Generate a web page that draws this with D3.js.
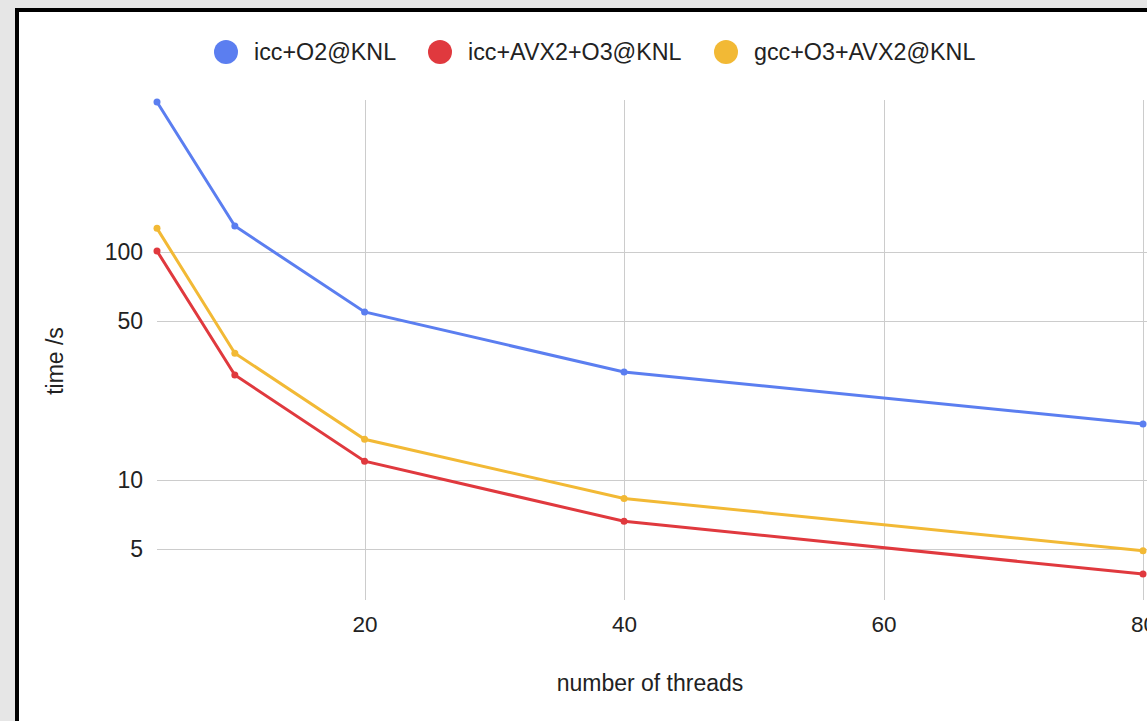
<!DOCTYPE html>
<html>
<head>
<meta charset="utf-8">
<script src="https://cdn.jsdelivr.net/npm/d3@7"></script>
<style>
  body { margin: 0; background: #e6e6e6; overflow: hidden; }
  #container { position: absolute; left: 15px; top: 8px; }
  text { font-family: "Liberation Sans", Arial, sans-serif; fill: #222; }
</style>
</head>
<body>
<div id="container"></div>
<script>
let w = 1147;
let h = 721;

// data
let threads = [4, 10, 20, 40, 80];
let seriesNames = ["icc+O2@KNL", "icc+AVX2+O3@KNL", "gcc+O3+AVX2@KNL"];
let seriesColors = ["#5b7ef0", "#e0393e", "#f2b935"];
let iccO2 = [455, 130, 54.6, 29.8, 17.6];
let iccAvx = [101, 28.9, 12.1, 6.6, 3.87];
let gccAvx = [127, 36, 15.1, 8.3, 4.9];
let yTicks = [5, 10, 50, 100];
let xTicks = [20, 40, 60, 80];

let allSeries = [iccO2, iccAvx, gccAvx];

// svg sits inside the black frame, page offset is done by #container
let ox = 15, oy = 8;
let viz = d3.select("#container").append("svg")
    .attr("width", w)
    .attr("height", h)
    .style("display", "block")
;

viz.append("rect")
  .attr("x", 2).attr("y", 2)
  .attr("width", w + 20).attr("height", h + 20)
  .attr("fill", "white")
  .attr("stroke", "black")
  .attr("stroke-width", 4)
;

// scales (positions in page coords, shifted by container offset)
let xScale = d3.scaleLinear().domain([4, 80]).range([157 - ox, 1143 - ox]);
let yScale = d3.scaleLog().domain([2.98, 464]).range([600 - oy, 100 - oy]);

// gridlines
let grid = viz.append("g").attr("class", "grid");
grid.selectAll(".hgrid").data(yTicks).enter().append("line")
  .attr("x1", xScale(4)).attr("x2", w)
  .attr("y1", d => Math.round(yScale(d)) + 0.5)
  .attr("y2", d => Math.round(yScale(d)) + 0.5)
  .attr("stroke", "#cccccc")
;
grid.selectAll(".vgrid").data(xTicks).enter().append("line")
  .attr("y1", yScale.range()[1]).attr("y2", yScale.range()[0])
  .attr("x1", d => Math.round(xScale(d)) + 0.5)
  .attr("x2", d => Math.round(xScale(d)) + 0.5)
  .attr("stroke", "#cccccc")
;

// axes
let yAxis = d3.axisLeft(yScale).tickValues(yTicks).tickFormat(d3.format("d")).tickSize(0).tickPadding(14);
let yAxisGroup = viz.append("g")
    .attr("transform", "translate(" + xScale(4) + ",0)")
    .call(yAxis);
yAxisGroup.select(".domain").remove();
yAxisGroup.selectAll("text")
  .style("font-family", "Liberation Sans, Arial, sans-serif")
  .style("font-size", "23px").attr("fill", "#222");

let xAxis = d3.axisBottom(xScale).tickValues(xTicks).tickSize(0).tickPadding(0);
let xAxisGroup = viz.append("g")
    .attr("transform", "translate(0," + (632 - oy) + ")")
    .call(xAxis);
xAxisGroup.select(".domain").remove();
xAxisGroup.selectAll("text")
  .attr("dy", 0)
  .style("font-family", "Liberation Sans, Arial, sans-serif")
  .style("font-size", "22.5px").attr("fill", "#222");

// axis titles
viz.append("text")
  .text("number of threads")
  .attr("text-anchor", "middle")
  .attr("x", 650 - ox)
  .attr("y", 691 - oy)
  .style("font-size", "23px")
;
viz.append("text")
  .text("time /s")
  .attr("text-anchor", "middle")
  .attr("transform", "translate(" + (63 - ox) + "," + (361 - oy) + ") rotate(-90)")
  .style("font-size", "23px")
;

// lines
let line = d3.line()
  .x((d, i) => xScale(threads[i]))
  .y(d => yScale(d));

let graphGroup = viz.append("g").attr("class", "graphgroup");
allSeries.forEach(function(vals, si){
  graphGroup.append("path")
    .attr("d", line(vals))
    .attr("fill", "none")
    .attr("stroke", seriesColors[si])
    .attr("stroke-width", 3)
  ;
  graphGroup.selectAll(".pt" + si).data(vals).enter().append("circle")
    .attr("cx", (d, i) => xScale(threads[i]))
    .attr("cy", d => yScale(d))
    .attr("r", 3.5)
    .attr("fill", seriesColors[si])
  ;
});

// legend
let legendX = [226, 440, 726];
let legend = viz.append("g").attr("class", "legend");
seriesNames.forEach(function(name, i){
  legend.append("circle")
    .attr("cx", legendX[i] - ox)
    .attr("cy", 52 - oy)
    .attr("r", 12)
    .attr("fill", seriesColors[i]);
  legend.append("text")
    .text(name)
    .attr("x", legendX[i] + 28 - ox)
    .attr("y", 60 - oy)
    .style("font-size", "23.3px")
    .attr("fill", "#333");
});
</script>
</body>
</html>
